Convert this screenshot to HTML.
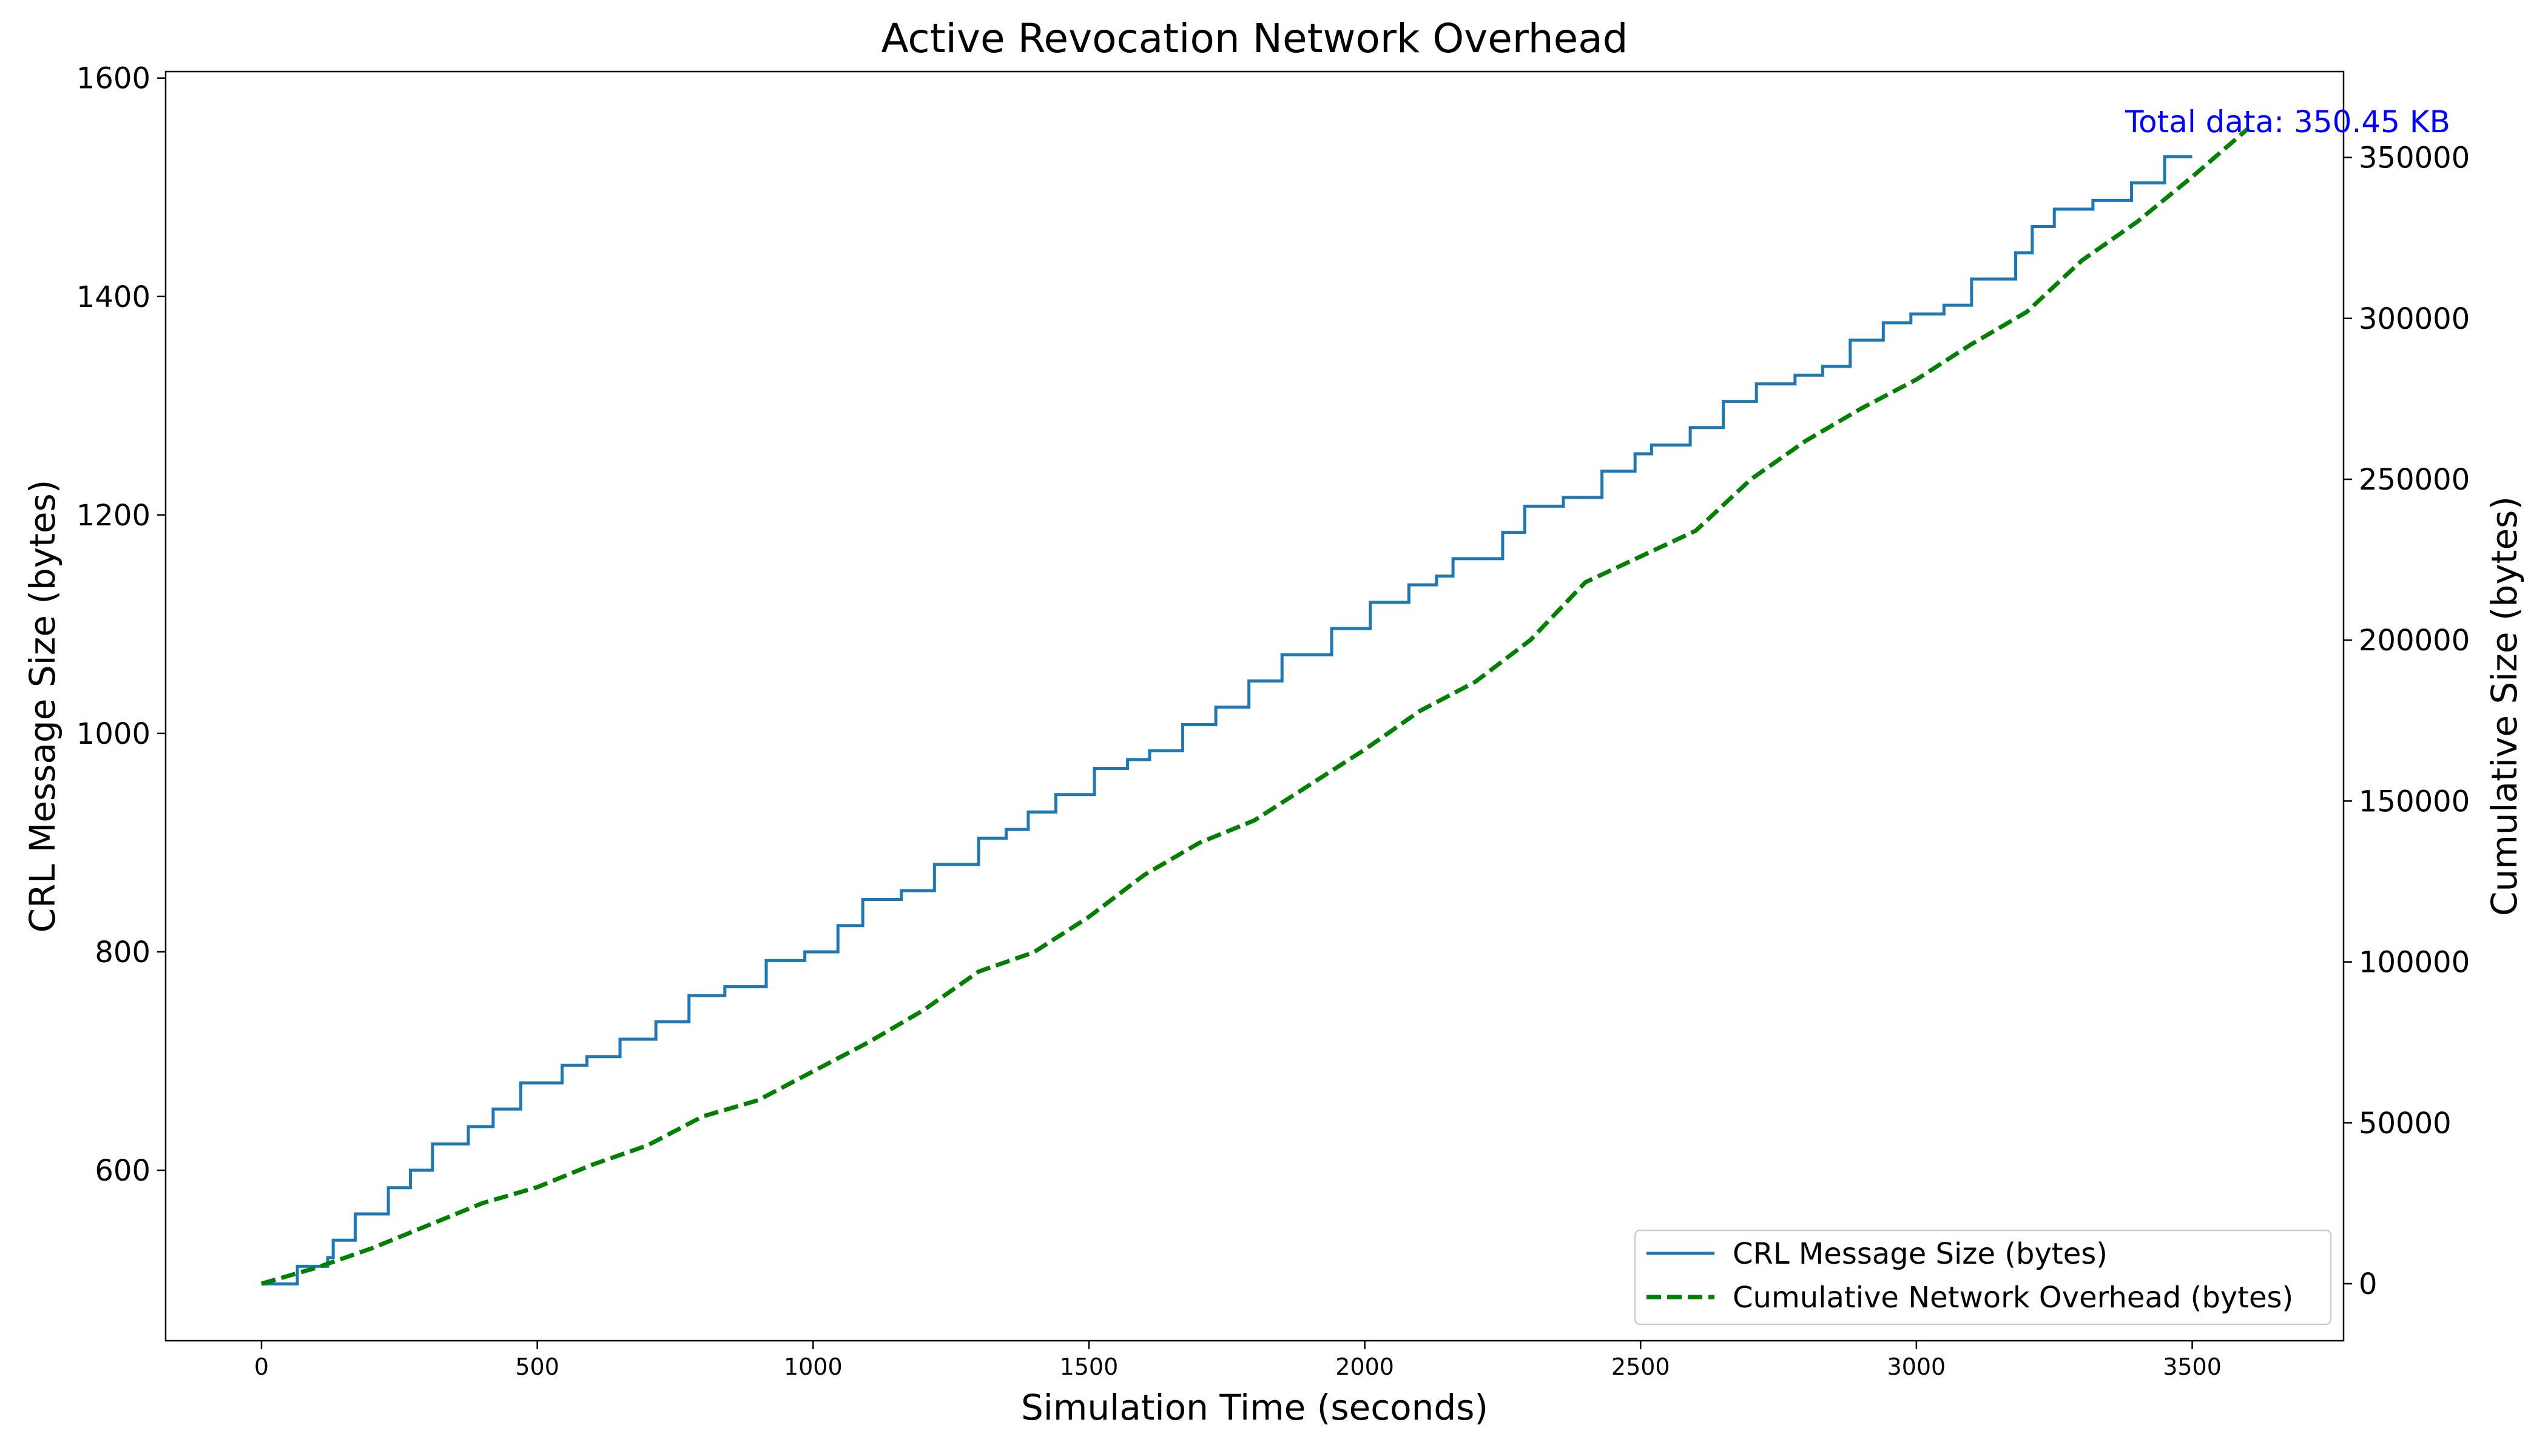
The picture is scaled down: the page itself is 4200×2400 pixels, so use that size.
<!DOCTYPE html>
<html><head><meta charset="utf-8"><style>
html,body{margin:0;padding:0;background:#fff}
svg{display:block;font-family:"DejaVu Sans","Liberation Sans",sans-serif}
</style></head><body>
<svg id="chart" width="4200" height="2400" viewBox="0 0 4200 2400" xmlns="http://www.w3.org/2000/svg">
<rect width="4200" height="2400" fill="#fff"/>
<g id="marks"></g>
<rect x="273" y="118" width="3590" height="2092" fill="none" stroke="#000" stroke-width="2.5"/>
<g id="axes"></g>
<text x="2068" y="86" font-size="66" text-anchor="middle">Active Revocation Network Overhead</text>
<text x="2068" y="2340" font-size="58" text-anchor="middle">Simulation Time (seconds)</text>
<text transform="translate(90,1164) rotate(-90)" font-size="58" text-anchor="middle">CRL Message Size (bytes)</text>
<text transform="translate(4148,1164) rotate(-90)" font-size="58" text-anchor="middle">Cumulative Size (bytes)</text>
<text x="3503" y="218" font-size="50" fill="#0000ff">Total data: 350.45 KB</text>
<g>
<rect x="2695" y="2028" width="1147" height="155" rx="8" fill="#fff" fill-opacity="0.8" stroke="#ccc" stroke-width="2.5"/>
<line x1="2714" y1="2066" x2="2826" y2="2066" stroke="#1f77b4" stroke-width="5"/>
<text x="2856" y="2083" font-size="48">CRL Message Size (bytes)</text>
<line x1="2714" y1="2138" x2="2826" y2="2138" stroke="#008000" stroke-width="7" stroke-dasharray="24,10"/>
<text x="2856" y="2155" font-size="48">Cumulative Network Overhead (bytes)</text>
</g>
</svg>
<script>
const stepTimes=[0,65,120,130,170,230,270,310,375,420,470,545,590,650,715,775,840,915,985,1045,1090,1160,1220,1300,1350,1390,1440,1510,1570,1610,1670,1730,1790,1850,1940,2010,2080,2130,2160,2250,2290,2360,2430,2490,2520,2590,2650,2710,2780,2830,2880,2940,2990,3050,3100,3180,3210,3250,3320,3390,3450];
const crlSizes=[496,512,520,536,560,584,600,624,640,656,680,696,704,720,736,760,768,792,800,824,848,856,880,904,912,928,944,968,976,984,1008,1024,1048,1072,1096,1120,1136,1144,1160,1184,1208,1216,1240,1256,1264,1280,1304,1320,1328,1336,1360,1376,1384,1392,1416,1440,1464,1480,1488,1504,1528];
const crlEnd=3500;
const cumTimes=[0,100,200,300,400,500,600,700,800,900,1000,1100,1200,1300,1400,1500,1600,1700,1800,1900,2000,2100,2200,2300,2400,2500,2600,2700,2800,2900,3000,3100,3200,3300,3400,3500,3600];
const cumValues=[0,5000,11000,18000,25000,30000,37000,43000,52000,57000,66000,75000,85000,97000,103000,114000,127000,137000,144000,155000,166000,178000,187000,200000,218000,226000,234000,250000,262000,272000,281000,292000,302000,318000,330000,344000,358800];
const xTicks=[0,500,1000,1500,2000,2500,3000,3500];
const yLeftTicks=[600,800,1000,1200,1400,1600];
const yRightTicks=[0,50000,100000,150000,200000,250000,300000,350000];

const X=t=>431+t*0.9093;
const YL=v=>1929-(v-600)*1.8003;
const YR=v=>2116-v*0.005304;
const NS="http://www.w3.org/2000/svg";
function mk(tag,attrs,parent){const e=document.createElementNS(NS,tag);for(const k in attrs)e.setAttribute(k,attrs[k]);parent.appendChild(e);return e;}
const marks=document.getElementById('marks'),axes=document.getElementById('axes');

let d=`M${X(stepTimes[0])},${YL(crlSizes[0])}`;
for(let i=1;i<stepTimes.length;i++){d+=` L${X(stepTimes[i])},${YL(crlSizes[i-1])} L${X(stepTimes[i])},${YL(crlSizes[i])}`;}
d+=` L${X(crlEnd)},${YL(crlSizes[crlSizes.length-1])}`;
const crl=mk('path',{d:d,fill:'none',stroke:'#1f77b4','stroke-width':5},marks);



let d2=cumTimes.map((t,i)=>(i?'L':'M')+X(t)+','+YR(cumValues[i])).join(' ');
const cum=mk('path',{d:d2,fill:'none',stroke:'#008000','stroke-width':7,'stroke-dasharray':'24,10'},marks);



xTicks.forEach(t=>{const x=X(t);
 mk('line',{x1:x,y1:2210,x2:x,y2:2224,stroke:'#000','stroke-width':2.5},axes);
 const tx=mk('text',{x:x,y:2266,'font-size':38,'text-anchor':'middle'},axes);tx.textContent=t;
 
 });
yLeftTicks.forEach(v=>{const y=YL(v);
 mk('line',{x1:259,y1:y,x2:273,y2:y,stroke:'#000','stroke-width':2.5},axes);
 const tx=mk('text',{x:248,y:y+17,'font-size':48,'text-anchor':'end'},axes);tx.textContent=v;
 
 });
yRightTicks.forEach(v=>{const y=YR(v);
 mk('line',{x1:3863,y1:y,x2:3877,y2:y,stroke:'#000','stroke-width':2.5},axes);
 const tx=mk('text',{x:3888,y:y+17,'font-size':48,'text-anchor':'start'},axes);tx.textContent=v;
 
 });
</script>
</body></html>
